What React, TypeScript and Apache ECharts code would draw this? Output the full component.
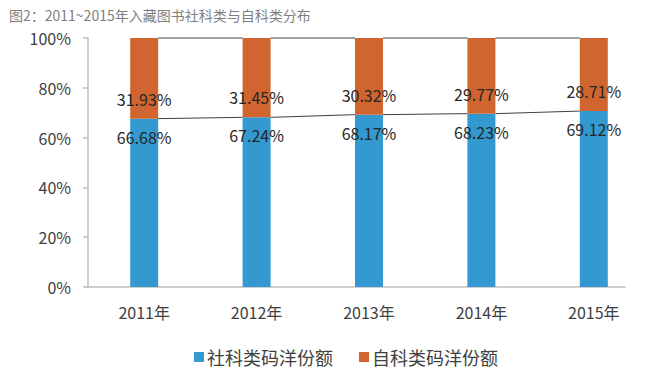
import React, { useEffect, useRef } from "react";
import * as echarts from "echarts";

const years = ["2011年", "2012年", "2013年", "2014年", "2015年"];
const socialShare = [66.68, 67.24, 68.17, 68.23, 69.12];
const scienceShare = [31.93, 31.45, 30.32, 29.77, 28.71];
const yTicks = [0, 20, 40, 60, 80, 100];
const seriesNames = ["社科类码洋份额", "自科类码洋份额"];
const titleText = "图2：2011~2015年入藏图书社科类与自科类分布";

const FONT = "'Noto Sans CJK SC', 'Noto Sans', sans-serif";
const BAR_W = 28;

export default function App() {
  const ref = useRef<HTMLDivElement>(null);
  useEffect(() => {
    document.body.style.margin = "0";
    const chart = echarts.init(ref.current!, null, { renderer: "svg" });
    const totals = socialShare.map((v, i) => v + scienceShare[i]);
    const socialPct = socialShare.map((v, i) => (v / totals[i]) * 100);
    const sciencePct = scienceShare.map((v, i) => (v / totals[i]) * 100);
    const seriesLineData = socialPct.slice(0, -1).map((v, i) => [i, v, socialPct[i + 1]]);

    chart.setOption({
      animation: false,
      title: {
        text: titleText,
        left: 4,
        top: 3,
        textStyle: { fontSize: 14, fontWeight: "normal", color: "#7f7f7f", fontFamily: FONT },
      },
      grid: [
        { left: 88, right: 4, top: 38, bottom: 84, containLabel: false },
        { left: 88, right: 29, top: 38, bottom: 84, containLabel: false },
      ],
      legend: {
        left: 189,
        top: 343,
        icon: "rect",
        itemWidth: 10,
        itemHeight: 10,
        itemGap: 26,
        data: seriesNames,
        textStyle: { fontSize: 18, color: "#404040", fontFamily: FONT, padding: [0, 0, 0, -2] },
      },
      xAxis: [
        {
          type: "category",
          gridIndex: 0,
          data: years,
          axisLine: { show: false },
          axisTick: { show: false },
          axisLabel: { fontSize: 16, color: "#404040", fontFamily: FONT, margin: 17 },
        },
        {
          type: "category",
          gridIndex: 1,
          data: years,
          axisLine: { show: true, lineStyle: { color: "#bfbfbf", width: 1.5 } },
          axisTick: { show: false },
          axisLabel: { show: false },
        },
      ],
      yAxis: [
        {
          type: "value",
          gridIndex: 0,
          min: yTicks[0],
          max: yTicks[yTicks.length - 1],
          interval: 20,
          axisLine: { show: true, lineStyle: { color: "#bfbfbf", width: 1.5 } },
          axisTick: { show: true, length: 5, lineStyle: { color: "#bfbfbf", width: 1.5 } },
          splitLine: { show: false },
          axisLabel: {
            fontSize: 16,
            color: "#404040",
            fontFamily: FONT,
            margin: 17,
            formatter: (v: number) => `${v}%`,
          },
        },
        {
          type: "value",
          gridIndex: 1,
          min: yTicks[0],
          max: yTicks[yTicks.length - 1],
          interval: 20,
          show: false,
        },
      ],
      series: [
        {
          name: seriesNames[0],
          type: "bar",
          stack: "total",
          barWidth: BAR_W,
          itemStyle: { color: "#3399d0" },
          data: socialPct,
          label: {
            show: true,
            position: "insideTop",
            distance: 10,
            fontSize: 16,
            color: "#262626",
            fontFamily: FONT,
            formatter: (p: any) => `${socialShare[p.dataIndex].toFixed(2)}%`,
          },
        },
        {
          name: seriesNames[1],
          type: "bar",
          stack: "total",
          barWidth: BAR_W,
          itemStyle: { color: "#d0652f" },
          data: sciencePct,
          label: {
            show: true,
            position: "insideBottom",
            distance: 12,
            fontSize: 16,
            color: "#262626",
            fontFamily: FONT,
            formatter: (p: any) => `${scienceShare[p.dataIndex].toFixed(2)}%`,
          },
        },
        {
          type: "custom",
          name: "seriesLines",
          silent: true,
          z: 5,
          data: seriesLineData,
          renderItem: (params: any, api: any) => {
            const i = api.value(0);
            const a = api.coord([i, api.value(1)]);
            const b = api.coord([i + 1, api.value(2)]);
            const ta = api.coord([i, 100]);
            const tb = api.coord([i + 1, 100]);
            const style = { stroke: "#404040", lineWidth: 1 };
            return {
              type: "group",
              children: [
                {
                  type: "line",
                  shape: { x1: a[0] + BAR_W / 2, y1: a[1], x2: b[0] - BAR_W / 2, y2: b[1] },
                  style,
                },
                {
                  type: "line",
                  shape: { x1: ta[0] + BAR_W / 2, y1: ta[1], x2: tb[0] - BAR_W / 2, y2: tb[1] },
                  style,
                },
              ],
            };
          },
        },
      ],
    });
    return () => chart.dispose();
  }, []);
  return (
    <div
      ref={ref}
      style={{ position: "absolute", left: 0, top: 0, width: 654, height: 371, background: "#fff" }}
    />
  );
}
